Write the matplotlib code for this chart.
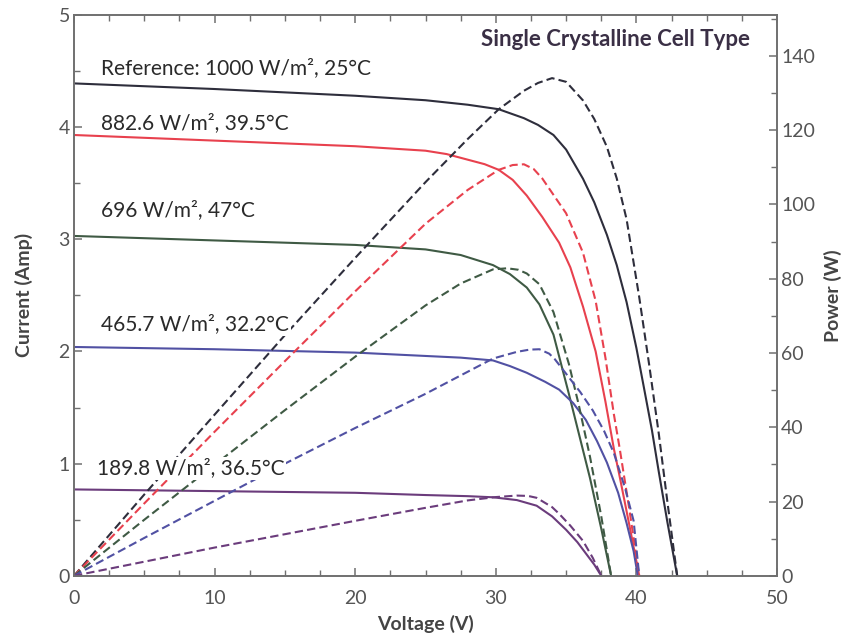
import matplotlib
matplotlib.use("Agg")
import matplotlib.pyplot as plt
from matplotlib.ticker import MultipleLocator

plt.rcParams["font.family"] = ["Lato", "DejaVu Sans"]

# I-V curves (solid)
v_ref = [0, 10, 20, 25, 26.5, 28, 30.2, 32, 33, 34.1, 35, 36.2, 37, 37.9, 38.6, 39.3, 40, 40.5, 41.1, 41.6, 42.2, 42.9]
i_ref = [4.39, 4.34, 4.28, 4.24, 4.22, 4.20, 4.16, 4.08, 4.02, 3.93, 3.80, 3.54, 3.33, 3.04, 2.77, 2.44, 2.03, 1.70, 1.30, 0.92, 0.48, 0]

v_882 = [0, 10, 20, 25, 26.5, 28, 29.2, 30.2, 31.2, 32.2, 33.3, 34.5, 35.3, 36.2, 37.1, 37.8, 38.4, 38.8, 39.5, 40.2]
i_882 = [3.93, 3.88, 3.83, 3.79, 3.76, 3.71, 3.67, 3.62, 3.53, 3.39, 3.20, 2.97, 2.75, 2.40, 2.00, 1.55, 1.13, 0.89, 0.45, 0]

v_696 = [0, 10, 20, 22.5, 25, 27.5, 29.8, 31, 32.2, 33.1, 34.1, 35.2, 36, 36.7, 37.5, 38.2]
i_696 = [3.03, 2.99, 2.95, 2.93, 2.91, 2.86, 2.77, 2.69, 2.57, 2.42, 2.15, 1.62, 1.22, 0.87, 0.42, 0]

v_466 = [0, 10, 20, 25, 27.5, 29.8, 31, 32.2, 33.5, 34.5, 35.5, 36.4, 37.2, 37.9, 38.7, 39.3, 39.8, 40.1]
i_466 = [2.04, 2.02, 1.99, 1.96, 1.945, 1.92, 1.87, 1.81, 1.73, 1.66, 1.54, 1.39, 1.20, 1.01, 0.74, 0.47, 0.22, 0]

v_190 = [0, 10, 20, 25, 28, 29.8, 31.5, 32.9, 34, 35, 35.8, 36.4, 37, 37.5]
i_190 = [0.77, 0.755, 0.74, 0.72, 0.71, 0.70, 0.675, 0.625, 0.53, 0.41, 0.30, 0.20, 0.10, 0]

# P-V curves (dashed)
pv_ref = [0, 5, 10, 15, 20, 25, 28, 30.2, 32, 33, 34, 35, 36.2, 37, 37.9, 38.6, 39.3, 40.2, 40.9, 41.6, 42.2, 42.9]
p_ref = [0, 21.9, 43.4, 64.8, 85.6, 106, 117.6, 125.6, 130.6, 132.7, 134, 133, 128, 123, 115.5, 107, 96, 75, 57, 38, 20, 0]

pv_882 = [0, 5, 10, 15, 20, 25, 28, 30.2, 31.2, 32, 32.7, 33.3, 35, 36.2, 37.1, 37.8, 38.4, 38.8, 39.5, 40.2]
p_882 = [0, 19.5, 38.8, 57.8, 76.6, 94.8, 103.9, 109.3, 110.6, 110.8, 109.5, 107, 97.6, 87, 74, 58.6, 43.4, 34.5, 17.8, 0]

pv_696 = [0, 5, 10, 15, 20, 25, 27.5, 29.8, 30.8, 31.6, 32.2, 33.1, 34.1, 35.2, 35.9, 36.7, 37.5, 38.2]
p_696 = [0, 15.1, 29.9, 44.6, 59, 72.8, 78.7, 82.5, 82.8, 82.4, 81.4, 78.5, 71, 57, 46, 32, 16, 0]

pv_466 = [0, 5, 10, 15, 20, 25, 29.8, 31.5, 32.4, 33.1, 33.8, 34.2, 35, 36, 36.9, 37.7, 38.4, 39.2, 39.8, 40.2]
p_466 = [0, 10.2, 20.2, 30.2, 39.8, 49, 58.5, 60.3, 60.9, 61, 59.8, 58.3, 54.4, 49.5, 44.5, 39, 33, 23.5, 14.8, 0]

pv_190 = [0, 5, 10, 15, 20, 25, 28, 30, 31.5, 32.3, 32.9, 34, 34.5, 35.3, 36.2, 36.9, 37.5]
p_190 = [0, 3.8, 7.6, 11.2, 14.8, 18.3, 20.3, 21.2, 21.6, 21.5, 21.0, 18.5, 16.7, 13.5, 9.4, 4.8, 0]

labels = ["Reference: 1000 W/m², 25°C", "882.6 W/m², 39.5°C", "696 W/m², 47°C",
          "465.7 W/m², 32.2°C", "189.8 W/m², 36.5°C"]
label_pos = [(1.95, 4.53), (1.95, 4.04), (1.95, 3.26), (1.95, 2.24), (1.6, 0.96)]
colors = ["#2e2e3c", "#e8414e", "#3f5a44", "#5151a3", "#6b3c7c"]

iv = [(v_ref, i_ref), (v_882, i_882), (v_696, i_696), (v_466, i_466), (v_190, i_190)]
pv = [(pv_ref, p_ref), (pv_882, p_882), (pv_696, p_696), (pv_466, p_466), (pv_190, p_190)]

fig = plt.figure(figsize=(8.48, 6.38), dpi=100)
ax = fig.add_axes([0.0873, 0.0975, 0.8290, 0.8790])
ax2 = ax.twinx()

for (v, i), c in zip(iv, colors):
    ax.plot(v, i, color=c, lw=1.5, zorder=2)
for (v, p), c in zip(pv, colors):
    ax2.plot(v, p, color=c, lw=1.5, ls=(0, (4, 2)), zorder=2)

for txt, (x, y) in zip(labels, label_pos):
    ax2.text(x, y * 151 / 5, txt, fontsize=15, color="#2a2a2a", ha="left", va="center", zorder=5,
             bbox=dict(facecolor="white", edgecolor="none", pad=1.0))

ax2.text(48.1, 144.5, "Single Crystalline Cell Type", fontsize=16, fontweight="bold",
         color="#3a2f45", ha="right", va="center")

ax.set_xlim(0, 50)
ax.set_ylim(0, 5)
ax2.set_ylim(0, 151)
ax.xaxis.set_major_locator(MultipleLocator(10))
ax.xaxis.set_minor_locator(MultipleLocator(2.5))
ax.yaxis.set_major_locator(MultipleLocator(1))
ax.yaxis.set_minor_locator(MultipleLocator(0.5))
ax2.yaxis.set_major_locator(MultipleLocator(20))
ax2.yaxis.set_minor_locator(MultipleLocator(10))

for a in (ax, ax2):
    for s in a.spines.values():
        s.set_color("#707070")
        s.set_linewidth(1.2)
    a.tick_params(which="both", direction="in", color="#707070", labelcolor="#555555", labelsize=14, pad=3)
    a.tick_params(which="major", length=6, width=1.1)
    a.tick_params(which="minor", length=4, width=1.0)
ax.tick_params(axis="x", which="both", top=True, pad=10)

ax.set_xlabel("Voltage (V)", fontsize=14, fontweight="bold", color="#444444", labelpad=6)
ax.set_ylabel("Current (Amp)", fontsize=14, fontweight="bold", color="#444444", labelpad=18)
ax2.set_ylabel("Power (W)", fontsize=14, fontweight="bold", color="#444444", labelpad=6)

fig.savefig("out.png", dpi=100)
